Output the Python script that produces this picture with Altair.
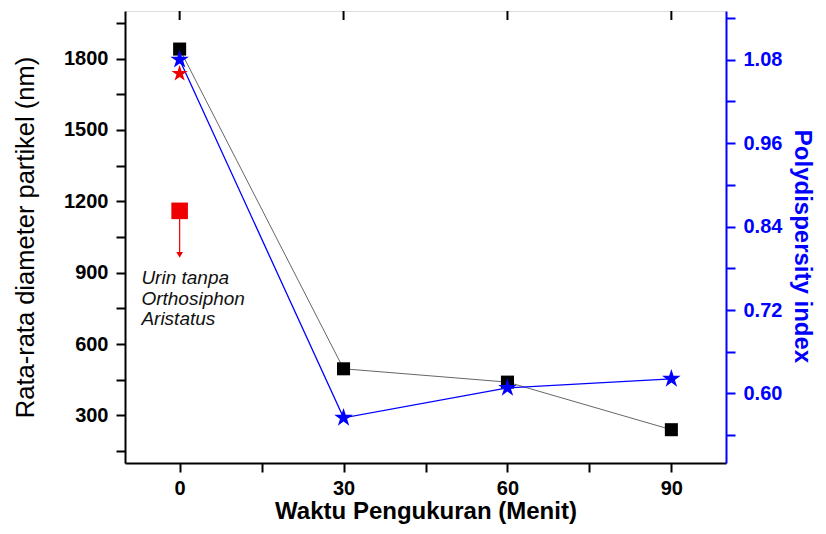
import altair as alt
import pandas as pd

# --- data ---
time_min = [0, 30, 60, 90]
diameter_nm = [1840, 496, 440, 240]
pdi = [1.08, 0.565, 0.608, 0.621]

control_time = [0]
control_diameter = [1160]
control_pdi = [1.06]
control_arrow_end = [975]

note_lines = ["Urin tanpa", "Orthosiphon", "Aristatus"]
note_x = [-7]
note_y = [915]

x_tick_values = [0, 15, 30, 45, 60, 75, 90]
top_tick_values = [0, 30, 60, 90]
left_tick_values = [150, 300, 450, 600, 750, 900, 1050, 1200, 1350, 1500, 1650, 1800, 1950]
right_tick_values = [0.54, 0.60, 0.66, 0.72, 0.78, 0.84, 0.90, 0.96, 1.02, 1.08, 1.14]

FONT = "Liberation Sans"
BLUE = "#0000ff"
RED = "#ee0000"
STAR = ("M0,-1L0.2245,-0.309L0.9511,-0.309L0.3633,0.118L0.5878,0.809L0,0.382"
        "L-0.5878,0.809L-0.3633,0.118L-0.9511,-0.309L-0.2245,-0.309Z")

main = pd.DataFrame({"t": time_min, "d": diameter_nm, "p": pdi})
ctrl = pd.DataFrame({"t": control_time, "d": control_diameter, "p": control_pdi,
                     "d2": control_arrow_end})
note = pd.DataFrame({"t": note_x, "d": note_y, "txt": ["\n".join(note_lines)]})
top_ticks = pd.DataFrame({"t": top_tick_values})

x_scale = alt.Scale(domain=[-10, 100], nice=False, zero=False)
yl_scale = alt.Scale(domain=[100, 2000], nice=False, zero=False)
yr_scale = alt.Scale(domain=[0.5, 1.15], nice=False, zero=False)

x_axis = alt.Axis(values=x_tick_values,
                  labelExpr="datum.value % 30 == 0 ? datum.label : ''",
                  title="Waktu Pengukuran (Menit)", titleFontSize=24, titleFontWeight="bold",
                  labelFontSize=20, labelFontWeight="bold", tickSize=9, tickWidth=2,
                  domainWidth=2, domainColor="black", tickColor="black", labelColor="black",
                  titleColor="black", grid=False, labelPadding=6, titlePadding=1,
                  labelFont=FONT, titleFont=FONT, format="d")

left_axis = alt.Axis(values=left_tick_values,
                     labelExpr="datum.value % 300 == 0 ? datum.label : ''",
                     title="Rata-rata diameter partikel (nm)", titleFontSize=25.5,
                     titleFontWeight="normal", labelFontSize=20, labelFontWeight="bold",
                     tickSize=9, tickWidth=2, domainWidth=2, domainColor="black",
                     tickColor="black", labelColor="black", titleColor="black", grid=False,
                     labelPadding=8, titlePadding=25, labelFont=FONT, titleFont=FONT, format="d")

right_axis = alt.Axis(orient="right", values=right_tick_values,
                      labelExpr="round(datum.value * 100) % 12 == 0 ? format(datum.value, '.2f') : ''",
                      title="Polydispersity index", titleFontSize=24, titleFontWeight="bold",
                      labelFontSize=20, labelFontWeight="bold", tickSize=9, tickWidth=2,
                      domainWidth=2, domainColor=BLUE, tickColor=BLUE, labelColor=BLUE,
                      titleColor=BLUE, grid=False, labelPadding=8, titlePadding=8,
                      titleY=235, labelFont=FONT, titleFont=FONT)

X = alt.X("t:Q", scale=x_scale, axis=x_axis)
YL = alt.Y("d:Q", scale=yl_scale, axis=left_axis)
YR = alt.Y("p:Q", scale=yr_scale, axis=right_axis)

black_line = alt.Chart(main).mark_line(color="#666666", strokeWidth=1).encode(x=X, y=YL)
black_sq = alt.Chart(main).mark_point(shape="square", filled=True, size=170, color="black",
                                      opacity=1).encode(x=X, y=YL)
arrow = alt.Chart(ctrl).mark_rule(color=RED, strokeWidth=1.2).encode(
    x=X, y=YL, y2=alt.Y2("d2:Q"))
arrow_head = alt.Chart(ctrl).mark_point(shape="triangle-down", filled=True, size=45,
                                        color=RED, opacity=1).encode(
    x=X, y=alt.Y("d2:Q", scale=yl_scale, axis=left_axis))
red_sq = alt.Chart(ctrl).mark_point(shape="square", filled=True, size=275, color=RED,
                                    opacity=1).encode(x=X, y=YL)
note_text = alt.Chart(note).mark_text(align="left", baseline="top", fontSize=19,
                                      fontStyle="italic", font=FONT, lineHeight=20.5,
                                      lineBreak="\n", color="#111111").encode(
    x=X, y=YL, text="txt:N")
top_rule = alt.Chart(top_ticks).mark_rule(color="black", strokeWidth=2).encode(
    x=X, y=alt.value(0), y2=alt.value(9))

left_group = alt.layer(top_rule, black_line, arrow, arrow_head, red_sq, black_sq, note_text)

blue_line = alt.Chart(main).mark_line(color=BLUE, strokeWidth=1.3).encode(x=X, y=YR)
blue_star = alt.Chart(main).mark_point(shape=STAR, filled=True, size=380, color=BLUE,
                                       opacity=1).encode(x=X, y=YR)
red_star = alt.Chart(ctrl).mark_point(shape=STAR, filled=True, size=300, color=RED,
                                      opacity=1).encode(x=X, y=YR)

right_group = alt.layer(blue_line, red_star, blue_star)

chart = alt.layer(left_group, right_group).resolve_scale(y="independent").properties(
    width=601, height=452,
    autosize=alt.AutoSizeParams(type="none"),
    padding={"left": 117, "top": 3, "right": 92, "bottom": 63},
).configure_view(stroke="black", strokeWidth=2).configure(background="white")

chart.save("out.html", embed_options={"renderer": "svg", "actions": False})
